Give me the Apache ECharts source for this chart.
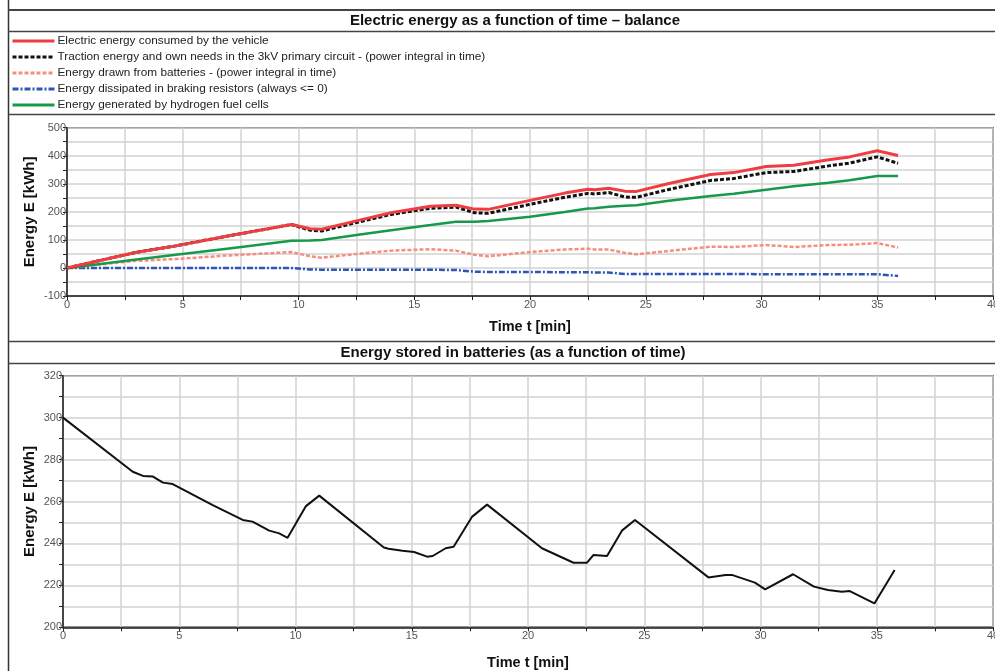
<!DOCTYPE html>
<html>
<head>
<meta charset="utf-8">
<script src="https://cdn.jsdelivr.net/npm/echarts@6/dist/echarts.min.js"></script>
<style>
html,body{margin:0;padding:0;background:#fff;overflow:hidden;}
#c{width:995px;height:671px;}
</style>
</head>
<body>
<div id="c"></div>
<script>
// ---- Data ----
var titleTop = 'Electric energy as a function of time – balance';
var titleBottom = 'Energy stored in batteries (as a function of time)';
var seriesNames = [
  'Electric energy consumed by the vehicle',
  'Traction energy and own needs in the 3kV primary circuit - (power integral in time)',
  'Energy drawn from batteries - (power integral in time)',
  'Energy dissipated in braking resistors (always <= 0)',
  'Energy generated by hydrogen fuel cells'
];
// time [min] for the balance chart
var tBalance = [0, 1, 3, 4.7, 7, 9.7, 10.5, 11, 12.5, 14, 15.7, 16.8, 17.6, 18.2, 20, 21.5, 22.5, 22.8, 23.4, 24.1, 24.6, 26, 27.8, 28.8, 30.2, 31.4, 32.9, 33.8, 35, 35.9];
var consumed  = [0, 19, 56, 79, 115, 155, 140, 138, 168, 197, 220, 224, 210, 209, 241, 267, 281, 279, 284, 274, 273, 301, 333, 340, 362, 366, 386, 396, 418, 401];
var traction  = [0, 19, 56, 79, 115, 155, 135, 132, 162, 191, 213, 217, 197, 195, 227, 252, 266, 264, 269, 253, 252, 280, 312, 319, 340, 344, 364, 374, 396, 373];
var battery   = [0, 9, 26, 32, 45, 57, 42, 37, 50, 62, 67, 62, 47, 42, 57, 66, 69, 66, 66, 54, 49, 61, 76, 75, 82, 75, 82, 83, 89, 73];
var braking   = [0, 0, 0, 0, 0, 0, -5, -6, -6, -6, -6, -7, -13, -14, -14, -15, -15, -16, -16, -21, -21, -21, -21, -21, -22, -22, -22, -22, -22, -28];
var fuelCells = [0, 10, 30, 47, 70, 97, 98, 100, 118, 135, 153, 165, 165, 168, 183, 200, 212, 213, 218, 222, 224, 240, 257, 265, 279, 291, 304, 313, 328, 328];
// time [min] and stored energy [kWh] for the battery chart
var tStored = [0, 3.0, 3.44, 3.87, 4.3, 4.72, 6.44, 7.73, 8.15, 8.87, 9.3, 9.66, 10.45, 11.02, 13.8, 14.0, 14.6, 15.1, 15.66, 15.9, 16.46, 16.8, 17.6, 18.24, 20.6, 21.96, 22.54, 22.82, 23.4, 24.04, 24.6, 27.76, 28.5, 28.8, 29.76, 30.2, 31.4, 32.3, 32.9, 33.5, 33.84, 34.9, 35.77];
var stored  = [300, 274.2, 272.2, 271.9, 269, 268.3, 258.3, 251.2, 250.4, 246.1, 244.8, 242.7, 257.8, 262.8, 238.1, 237.5, 236.5, 235.9, 233.7, 234, 237.7, 238.4, 252.8, 258.5, 237.7, 230.8, 230.8, 234.5, 234, 246.1, 251.2, 223.8, 224.9, 224.9, 221.3, 218.1, 225.3, 219.4, 217.8, 217, 217.3, 211.4, 227.3];
var xTitle = 'Time t [min]';
var yTitle = 'Energy E [kWh]';

function pairs(xs, ys){ return xs.map(function(x,i){ return [x, ys[i]]; }); }

var FONT = '"Liberation Sans", Arial, sans-serif';
var gridLine = {show:true, lineStyle:{color:'#d2d2d2', width:1.5}};
function xAx(gridIndex, gap){
  return {
    type:'value', gridIndex:gridIndex, min:0, max:40, interval:5,
    name:xTitle, nameLocation:'middle', nameGap:gap, nameMoveOverlap:false,
    nameTextStyle:{fontFamily:FONT, fontWeight:'bold', fontSize:14.5, color:'#111'},
    axisLine:{show:true, onZero:false, lineStyle:{color:'#222', width:1.5}},
    axisTick:{show:true, length:4, inside:false, lineStyle:{color:'#222'}},
    minorTick:{show:true, splitNumber:2, length:4, lineStyle:{color:'#222'}},
    axisLabel:{fontFamily:FONT, fontSize:11, color:'#555', margin:3, hideOverlap:false},
    splitLine:gridLine,
    minorSplitLine:{show:true, lineStyle:{color:'#d2d2d2', width:1.5}}
  };
}
function yAx(gridIndex, min, max, interval, gap){
  return {
    type:'value', gridIndex:gridIndex, min:min, max:max, interval:interval,
    name:yTitle, nameLocation:'middle', nameGap:gap, nameRotate:90, nameMoveOverlap:false,
    nameTextStyle:{fontFamily:FONT, fontWeight:'bold', fontSize:15, color:'#111'},
    axisLine:{show:true, onZero:false, lineStyle:{color:'#222', width:1.5}},
    axisTick:{show:true, length:4, lineStyle:{color:'#222'}},
    minorTick:{show:true, splitNumber:2, length:4, lineStyle:{color:'#222'}},
    axisLabel:{fontFamily:FONT, fontSize:11, color:'#555', margin:1},
    splitLine:gridLine,
    minorSplitLine:{show:true, lineStyle:{color:'#d2d2d2', width:1.5}}
  };
}

var colors = ['#ef3e42', '#111111', '#f58d80', '#2f56b5', '#17994a'];
var styles = [
  {width:3, type:'solid'},
  {width:3, type:[4,2]},
  {width:2.5, type:[4,2]},
  {width:2.5, type:[6,2,2,2]},
  {width:2.5, type:'solid'}
];
var zs = [6, 5, 3, 2, 4];
var dataSets = [consumed, traction, battery, braking, fuelCells];

var series = dataSets.map(function(arr, i){
  return {
    name: seriesNames[i], type:'line', xAxisIndex:0, yAxisIndex:0,
    data: pairs(tBalance, arr), showSymbol:false, symbol:'none',
    z: zs[i], animation:false,
    lineStyle:{color:colors[i], width:styles[i].width, type:styles[i].type},
    itemStyle:{color:colors[i]}
  };
});
series.push({
  name:'stored', type:'line', xAxisIndex:1, yAxisIndex:1,
  data: pairs(tStored, stored), showSymbol:false, symbol:'none', animation:false,
  lineStyle:{color:'#111', width:2}
});

function hline(y, w){
  return {type:'line', shape:{x1:8, y1:y, x2:995, y2:y}, style:{stroke:'#444', lineWidth:w||1.5}, silent:true};
}

var option = {
  backgroundColor:'#fff',
  animation:false,
  legend:{
    data: seriesNames, orient:'vertical', left:11, top:35, padding:0,
    itemWidth:42, itemHeight:14, itemGap:4, selectedMode:false,
    itemStyle:{opacity:0},
    lineStyle:{width:3},
    textStyle:{fontFamily:FONT, fontSize:11.8, color:'#222', padding:[0,0,0,-2]}
  },
  grid:[
    {left:67, top:127.7, right:2, height:168.4, show:true, borderColor:'#222', borderWidth:1.5, containLabel:false, outerBoundsMode:'none'},
    {left:63, top:375.7, right:2, height:251.6, show:true, borderColor:'#222', borderWidth:1.5, containLabel:false, outerBoundsMode:'none'}
  ],
  xAxis:[xAx(0, 23), xAx(1, 28)],
  yAxis:[yAx(0, -100, 500, 100, 30), yAx(1, 200, 320, 20, 26)],
  series: series,
  graphic:[
    {type:'line', shape:{x1:8.5, y1:0, x2:8.5, y2:671}, style:{stroke:'#333', lineWidth:1.5}, silent:true},
    hline(10, 2), hline(31.5), hline(114.5), hline(341.5), hline(363.5),
    {type:'text', x:515, y:20.5, style:{text:titleTop, font:'bold 15px ' + FONT, fill:'#111', textAlign:'center', textVerticalAlign:'middle'}},
    {type:'text', x:513, y:352.5, style:{text:titleBottom, font:'bold 15px ' + FONT, fill:'#111', textAlign:'center', textVerticalAlign:'middle'}}
  ]
};
var chart = echarts.init(document.getElementById('c'), null, {renderer:'canvas'});
chart.setOption(option);
</script>
</body>
</html>
